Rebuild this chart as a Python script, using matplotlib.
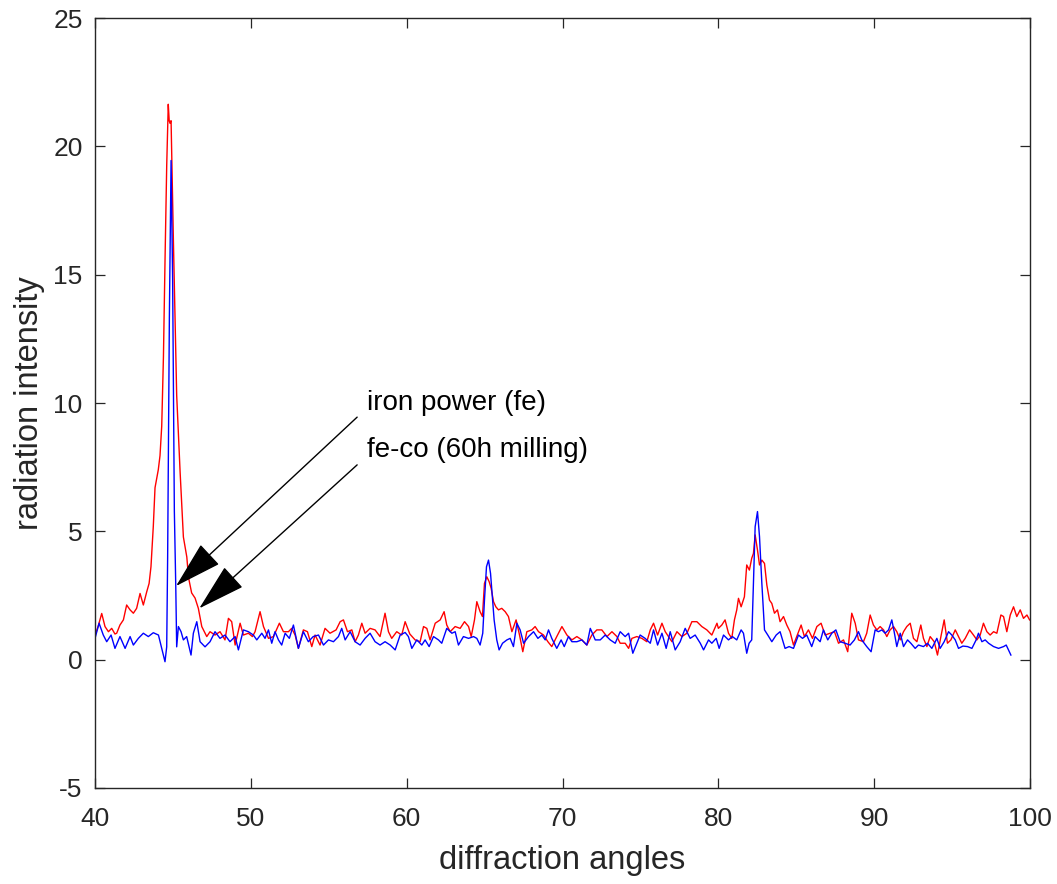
import matplotlib
matplotlib.use('Agg')
import matplotlib.pyplot as plt

# red: fe-co (60h milling)
red_angle = [40.0, 40.2, 40.43, 40.64, 40.86, 41.07, 41.28, 41.39, 41.6, 41.82,
             42.03, 42.25, 42.46, 42.67, 42.89, 43.1, 43.32, 43.47, 43.59, 43.74,
             43.85, 44.06, 44.17, 44.28, 44.39, 44.49, 44.6, 44.7, 44.76, 44.81,
             44.88, 45.03, 45.24, 45.46, 45.67, 45.89, 46.0, 46.2, 46.42, 46.63,
             46.85, 47.17, 47.38, 47.7, 48.02, 48.34, 48.56, 48.77, 48.99, 49.31,
             49.52, 49.84, 50.1, 50.27, 50.59, 50.81, 51.13, 51.45, 51.83, 52.09,
             52.41, 52.62, 52.84, 53.05, 53.37, 53.63, 53.91, 54.12, 54.44, 54.76,
             55.08, 55.47, 55.73, 55.94, 56.2, 56.48, 56.69, 56.9, 57.12, 57.33,
             57.65, 57.97, 58.29, 58.61, 58.83, 59.04, 59.36, 59.68, 59.9, 60.2,
             60.54, 60.86, 61.08, 61.29, 61.5, 61.83, 62.15, 62.4, 62.57, 62.79,
             63.11, 63.43, 63.71, 63.97, 64.14, 64.35, 64.5, 64.71, 64.86, 64.99,
             65.14, 65.29, 65.42, 65.57, 65.72, 65.89, 66.1, 66.32, 66.53, 66.75,
             67.02, 67.24, 67.45, 67.71, 68.03, 68.24, 68.46, 68.78, 69.06, 69.31,
             69.63, 69.96, 70.28, 70.6, 70.92, 71.24, 71.56, 71.88, 72.2, 72.52,
             72.85, 73.17, 73.49, 73.7, 74.02, 74.24, 74.45, 74.77, 75.09, 75.41,
             75.63, 75.84, 76.1, 76.38, 76.59, 76.8, 77.02, 77.34, 77.66, 77.98,
             78.3, 78.62, 78.94, 79.26, 79.58, 79.91, 80.0, 80.22, 80.43, 80.65,
             80.86, 81.03, 81.18, 81.29, 81.46, 81.67, 81.82, 81.99, 82.14, 82.25,
             82.36, 82.51, 82.64, 82.79, 82.96, 83.11, 83.28, 83.43, 83.6, 83.79,
             83.96, 84.18, 84.39, 84.6, 84.82, 85.03, 85.31, 85.52, 85.78, 86.04,
             86.32, 86.59, 86.85, 87.17, 87.45, 87.71, 88.03, 88.3, 88.56, 88.78,
             88.99, 89.31, 89.52, 89.74, 89.95, 90.17, 90.38, 90.6, 90.81, 91.02,
             91.24, 91.45, 91.67, 91.88, 92.09, 92.31, 92.52, 92.74, 92.99, 93.16,
             93.38, 93.59, 93.85, 94.06, 94.28, 94.49, 94.7, 94.92, 95.2, 95.41,
             95.62, 95.84, 96.12, 96.37, 96.59, 96.8, 97.01, 97.23, 97.44, 97.66,
             97.87, 98.13, 98.3, 98.51, 98.73, 98.94, 99.15, 99.37, 99.58, 99.8,
             99.97]
red_value = [0.95, 1.3, 1.8, 1.29, 1.09, 1.22, 1.0, 1.03, 1.35, 1.55,
             2.13, 1.94, 1.81, 2.0, 2.58, 2.13, 2.65, 2.97, 3.62, 5.2,
             6.7, 7.4, 7.95, 9.1, 11.8, 15.5, 19.25, 21.64, 21.0, 20.9,
             21.0, 16.3, 10.3, 7.31, 4.78, 4.0, 3.2, 2.6, 2.4, 2.0,
             1.29, 0.9, 1.09, 0.96, 1.09, 0.77, 1.61, 1.48, 0.57, 1.42,
             0.96, 1.03, 0.9, 1.09, 1.87, 1.29, 0.83, 0.9, 1.42, 1.09,
             1.09, 1.22, 0.96, 0.44, 1.16, 1.09, 0.51, 0.96, 0.57, 1.22,
             1.03, 1.16, 1.48, 1.55, 1.09, 1.16, 0.7, 0.96, 1.42, 1.03,
             1.22, 1.16, 0.9, 1.81, 1.09, 0.83, 1.09, 0.96, 1.48, 1.0,
             0.77, 0.7, 1.29, 1.22, 0.77, 1.42, 1.55, 1.87, 1.35, 1.09,
             1.29, 1.22, 1.48, 1.29, 0.9, 1.55, 2.26, 1.87, 1.68, 2.97,
             3.23, 3.04, 2.78, 2.26, 2.06, 1.94, 2.0, 1.87, 1.68, 1.09,
             1.55, 0.96, 0.31, 1.09, 1.16, 1.29, 1.09, 0.96, 0.7, 0.51,
             0.9, 1.29, 0.96, 0.77, 0.9, 0.77, 0.57, 0.96, 1.16, 1.16,
             0.9, 1.09, 0.9, 0.64, 0.64, 0.44, 0.83, 0.9, 0.83, 0.7,
             1.16, 1.42, 0.96, 1.42, 1.09, 0.9, 0.7, 1.09, 0.9, 1.03,
             1.48, 1.48, 1.29, 1.16, 0.96, 1.42, 1.22, 1.35, 1.55, 1.03,
             0.83, 1.55, 1.94, 2.39, 2.06, 2.45, 3.69, 3.49, 3.95, 4.14,
             4.86, 4.27, 3.69, 3.88, 3.75, 2.91, 2.32, 2.19, 1.81, 1.94,
             1.48, 1.68, 1.35, 1.09, 0.57, 0.9, 1.35, 0.9, 1.16, 0.83,
             1.29, 1.42, 0.96, 1.03, 1.09, 0.64, 0.77, 0.31, 1.81, 1.42,
             0.77, 0.7, 1.03, 1.74, 1.35, 1.16, 1.29, 1.16, 0.9, 1.16,
             1.29, 1.09, 0.77, 1.09, 1.29, 1.42, 0.83, 0.7, 1.35, 0.83,
             0.51, 0.9, 0.7, 0.18, 0.9, 1.55, 0.64, 0.77, 1.16, 0.9,
             0.64, 0.83, 1.16, 0.96, 0.77, 0.96, 1.42, 1.09, 0.96, 1.09,
             1.03, 1.74, 1.68, 1.09, 1.74, 2.06, 1.68, 1.94, 1.61, 1.74,
             1.55]

# blue: iron power (fe)
blue_angle = [40.0, 40.26, 40.53, 40.75, 41.03, 41.28, 41.6, 41.93, 42.25, 42.46,
              42.78, 43.1, 43.42, 43.74, 44.07, 44.28, 44.49, 44.6, 44.66, 44.77,
              44.88, 44.98, 45.09, 45.18, 45.24, 45.35, 45.52, 45.67, 45.88, 46.16,
              46.31, 46.53, 46.74, 47.06, 47.38, 47.7, 48.02, 48.34, 48.66, 48.99,
              49.2, 49.52, 49.84, 50.16, 50.38, 50.7, 50.91, 51.13, 51.34, 51.55,
              51.77, 51.98, 52.2, 52.47, 52.73, 53.05, 53.37, 53.69, 54.0, 54.34,
              54.66, 54.98, 55.3, 55.62, 55.83, 56.05, 56.37, 56.69, 57.01, 57.33,
              57.65, 57.97, 58.29, 58.61, 58.94, 59.26, 59.58, 59.9, 60.11, 60.33,
              60.65, 60.97, 61.18, 61.44, 61.72, 62.04, 62.25, 62.57, 62.9, 63.11,
              63.32, 63.64, 63.97, 64.29, 64.5, 64.71, 64.88, 64.99, 65.12, 65.25,
              65.38, 65.51, 65.61, 65.78, 65.93, 66.15, 66.43, 66.64, 66.85, 67.07,
              67.28, 67.5, 67.82, 68.14, 68.42, 68.67, 68.89, 69.1, 69.31, 69.63,
              69.91, 70.11, 70.38, 70.6, 70.92, 71.24, 71.56, 71.78, 72.1, 72.42,
              72.74, 73.06, 73.38, 73.7, 74.02, 74.24, 74.51, 74.77, 74.98, 75.3,
              75.63, 75.84, 76.1, 76.38, 76.65, 76.91, 77.23, 77.55, 77.87, 78.19,
              78.51, 78.84, 79.05, 79.37, 79.58, 79.86, 80.05, 80.33, 80.65, 80.9,
              81.18, 81.46, 81.61, 81.82, 81.97, 82.14, 82.25, 82.36, 82.51, 82.64,
              82.79, 82.96, 83.17, 83.43, 83.71, 83.96, 84.28, 84.54, 84.82, 85.14,
              85.4, 85.67, 85.99, 86.21, 86.53, 86.74, 87.02, 87.28, 87.54, 87.81,
              88.13, 88.45, 88.73, 88.99, 89.2, 89.52, 89.8, 90.06, 90.27, 90.49,
              90.7, 90.92, 91.13, 91.28, 91.45, 91.67, 91.88, 92.14, 92.35, 92.63,
              92.84, 93.16, 93.42, 93.7, 94.02, 94.23, 94.49, 94.77, 94.98, 95.2,
              95.41, 95.69, 95.99, 96.27, 96.54, 96.69, 96.91, 97.12, 97.34, 97.66,
              97.98, 98.3, 98.47, 98.62, 98.77]
blue_value = [0.83, 1.42, 0.96, 0.7, 0.96, 0.44, 0.9, 0.44, 0.9, 0.57,
              0.83, 1.03, 0.9, 1.05, 0.96, 0.44, -0.08, 0.5, 4.0, 13.3,
              19.45, 14.8, 5.8, 2.9, 0.5, 1.29, 1.09, 0.77, 0.9, 0.18,
              1.03, 1.48, 0.7, 0.5, 0.7, 1.09, 0.83, 0.96, 0.7, 0.9,
              0.38, 1.16, 1.09, 0.96, 0.77, 1.03, 0.83, 1.16, 0.64, 1.09,
              0.77, 0.57, 1.03, 0.83, 1.35, 0.44, 1.09, 0.7, 0.9, 0.96,
              0.57, 0.77, 0.7, 0.9, 1.22, 0.77, 1.09, 0.7, 0.57, 0.83,
              1.03, 0.7, 0.57, 0.7, 0.57, 0.38, 0.96, 1.06, 0.9, 0.44,
              0.77, 0.57, 0.77, 0.51, 0.9, 0.77, 0.64, 1.22, 1.03, 1.09,
              0.57, 0.9, 0.83, 0.9, 0.83, 0.57, 1.03, 2.32, 3.62, 3.88,
              3.36, 2.32, 1.55, 0.77, 0.38, 0.64, 0.77, 0.83, 0.51, 1.42,
              1.16, 0.64, 0.9, 1.09, 0.83, 0.96, 0.77, 1.16, 0.83, 0.44,
              0.77, 0.51, 0.9, 0.7, 0.7, 0.77, 0.57, 1.22, 0.77, 0.77,
              0.96, 0.77, 0.64, 1.09, 0.9, 1.03, 0.25, 0.64, 0.96, 0.83,
              0.64, 1.16, 0.57, 1.03, 0.44, 1.09, 0.38, 0.7, 1.22, 0.83,
              0.96, 0.64, 0.38, 0.77, 0.64, 0.83, 0.44, 0.96, 0.77, 0.9,
              0.77, 1.16, 1.03, 0.25, 0.64, 0.77, 2.97, 5.18, 5.77, 4.79,
              2.97, 1.16, 0.96, 0.7, 0.96, 1.09, 0.44, 0.51, 0.44, 0.96,
              0.83, 0.96, 0.51, 0.9, 0.7, 1.16, 0.77, 1.03, 1.16, 0.7,
              0.64, 0.57, 0.77, 1.09, 0.77, 0.51, 0.31, 1.16, 1.09, 1.16,
              1.03, 1.16, 1.55, 1.09, 0.51, 1.03, 0.51, 0.77, 0.64, 0.44,
              0.57, 0.51, 0.64, 0.44, 0.83, 0.44, 0.7, 1.09, 0.96, 0.77,
              0.44, 0.53, 0.51, 0.44, 0.77, 1.03, 0.7, 0.77, 0.64, 0.51,
              0.44, 0.51, 0.57, 0.38, 0.18]

x_ticks = [40, 50, 60, 70, 80, 90, 100]
y_ticks = [-5, 0, 5, 10, 15, 20, 25]
labels = ['iron power (fe)', 'fe-co (60h milling)']

plt.rcParams['font.family'] = ['Liberation Sans', 'DejaVu Sans']
plt.rcParams['axes.unicode_minus'] = False
dark = '#262626'

fig = plt.figure(figsize=(10.57, 8.84), dpi=100)
ax = fig.add_axes([0.0899, 0.1086, 0.8846, 0.871])

ax.plot(red_angle, red_value, color='#ff0000', linewidth=1.0)
ax.plot(blue_angle, blue_value, color='#0000ff', linewidth=1.0)

ax.set_xlim(40, 100)
ax.set_ylim(-5, 25)
ax.set_xticks(x_ticks)
ax.set_yticks(y_ticks)
ax.tick_params(direction='in', length=7, width=0.9, colors=dark, labelsize=19,
               top=True, right=True)
ax.tick_params(axis='x', pad=14)
ax.tick_params(axis='y', pad=9)
for s in ax.spines.values():
    s.set_color(dark)
    s.set_linewidth(1.0)

ax.set_xlabel('diffraction angles', fontsize=23.5, color=dark, labelpad=10)
ax.set_ylabel('radiation intensity', fontsize=23.5, color=dark, labelpad=6)

# arrows pointing at the two curves
arrow = dict(arrowstyle='-|>,head_length=1.4,head_width=0.4', color='black',
             linewidth=1.0, mutation_scale=22, shrinkA=0, shrinkB=0)
ax.annotate('', xy=(45.2, 2.87), xytext=(56.82, 9.45), arrowprops=arrow)
ax.annotate('', xy=(46.69, 2.0), xytext=(56.82, 7.59), arrowprops=arrow)
ax.text(57.46, 10.0, labels[0], fontsize=20, va='center', ha='left')
ax.text(57.46, 8.17, labels[1], fontsize=20, va='center', ha='left')

fig.savefig('out.png', dpi=100)
plt.close()
